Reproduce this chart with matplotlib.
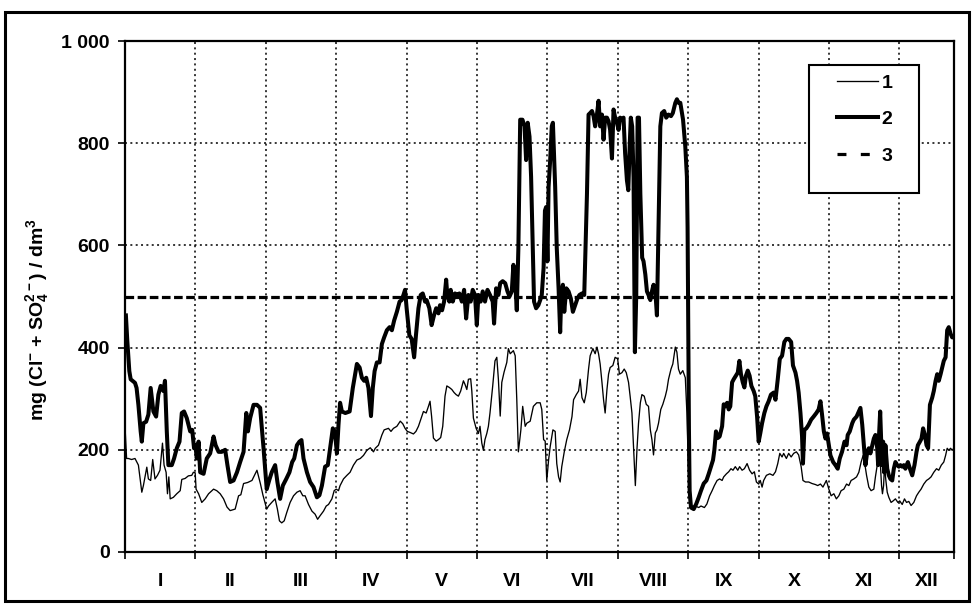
import matplotlib
matplotlib.use("Agg")
import matplotlib.pyplot as plt
from matplotlib.patches import Rectangle
from matplotlib.lines import Line2D

plt.rcParams['font.family'] = ['Liberation Sans', 'DejaVu Sans']
plt.rcParams['font.weight'] = 'bold'
plt.rcParams['mathtext.default'] = 'regular'

# ---------------- data ----------------
months = ['I', 'II', 'III', 'IV', 'V', 'VI', 'VII', 'VIII', 'IX', 'X', 'XI', 'XII']
month_edges = [0, 31, 62, 93, 124, 155, 186, 217, 248, 279, 310, 341, 365]
y_ticks = [0, 200, 400, 600, 800, 1000]
y_tick_labels = ['0', '200', '400', '600', '800', '1 000']
limit_value = 500
legend_labels = ['1', '2', '3']
y_label = r'mg (Cl$^{-}$ + SO$_{4}^{2-}$) / dm$^{3}$'

# series 1 (thin line): day of year, value
days1 = [0, 0.7, 1.5, 2.9, 4.4, 5.9, 7.4, 8.1, 8.8, 9.6,
         10.3, 11.3, 12.2, 13.2, 14.3, 15.4, 16.5, 17.2, 18.1, 18.7,
         19.3, 19.9, 21.3, 22.8, 24.3, 25, 26.5, 27.9, 29.4, 30.1,
         30.9, 31.3, 32.4, 33.8, 35.3, 36.8, 39, 40.4, 41.9, 43.4,
         44.9, 46.3, 48.5, 50, 51, 52.2, 54, 55.9, 58.1,
         59.6, 60.7,
         62.4, 63.2, 64.6, 66.1, 67.1, 68, 69, 70.1, 71.2, 72.7,
         74.2, 75.7, 77.1, 78.3, 79.3, 80.8, 82.3, 83.7, 84.8, 85.9,
         87.4, 88.6, 89.6, 91.1, 92.1, 93, 94, 94.7, 96.2, 97.7,
         99.1, 100.6, 102.1, 103.6, 105, 106.5, 108, 109.4, 110.2, 111.6,
         113.1, 114.1, 116, 117.1, 118.2, 119.7, 121.2,
         122.3, 123.3, 124.3, 125.5, 127, 128.1, 129.2, 130.2, 131.4, 132.6,
         133.6, 134.3, 135, 135.8, 137, 138, 139, 139.9, 140.9, 141.7,
         142.8, 143.9, 144.9, 145.8, 146.8, 147.8, 149, 149.7, 150.5, 151.2,
         152.2, 152.7, 153.4, 154.6, 155.6, 156.3, 157.1, 157.8, 158.5, 159.3,
         160, 160.7, 161.9, 162.9, 163.7, 164.4, 165.2, 165.9, 166.9, 168.1,
         168.8, 169.6, 170.3, 171, 171.8, 172.5, 173.2, 174.3, 175.1, 176.2,
         176.9, 178.4, 179.8, 181.3, 182.8, 183.5,
         184.3, 185, 185.7, 186.5, 187.2, 188.4, 189.4, 190.1, 190.9, 191.6,
         192.3, 193.4, 194.5, 195.7, 196.8, 197.5, 198.7, 199.7, 200.4, 201.2,
         202.2, 203.1, 204.1, 204.8, 206, 207, 207.8, 208.5, 209.2, 210,
         210.7, 211.4, 212.2, 212.9, 213.6, 214.8, 215.8, 216.9, 217.7, 218.8,
         219.8, 220.7, 221.7, 222.4, 223.2, 223.9, 224.7, 225.4, 226.1, 226.9,
         227.6, 228.6, 229.5, 230.5, 231.3, 232, 232.7, 233.5, 234.2, 234.9,
         235.9, 236.8, 237.9, 238.6, 239.3, 240.4, 241.2, 242.3, 243, 243.7,
         244.5, 245.6,
         246.7, 247.4, 248, 248.6, 249.6, 251.1, 252.6, 253.6, 255.1, 256.2,
         257.4, 258.5, 259.5, 260.7, 261.8, 262.9, 263.6, 264.8, 265.8, 266.8,
         267.7, 268.7, 269.8, 270.6, 271.7, 272.7, 273.9, 275, 276.1, 277.1,
         278, 279, 279.7, 280.5, 281.2, 282.4, 283.9, 285.3, 286.4, 287.4,
         288.3, 289.3, 290, 291.2, 292.2, 293.3, 294.4, 295.6, 296.6, 297.7,
         298.5, 299.6, 301, 302.5, 304, 305, 306.2, 307.3,
         308.8, 309.9, 310.9, 312.1, 313.2, 314.3, 315.3, 316.5, 317.7, 318.7,
         319.7, 320.9, 322.1, 323.1, 324.1, 325, 325.6, 326.5, 327.5, 328.5,
         329.7, 330.4, 331.2, 331.9, 332.6, 333.1, 333.5, 334, 334.4, 335,
         335.6, 336.3, 337.3, 338.2, 339.2, 340.3, 341.1, 342.2, 343.2, 344.1,
         345.1, 346.1, 347.3, 348.5, 349.5, 350.5, 351.7, 352.9, 353.9, 354.9,
         356.1, 357.3, 358.3, 359.4, 360.5, 361.3, 362, 362.7, 363.5, 364.2,
         364.9]
series1 = [246, 183, 183, 181, 183, 170, 117, 130, 147, 166,
           143, 140, 181, 143, 150, 160, 213, 170, 156, 114,
           147, 104, 107, 114, 120, 142, 144, 149, 150, 156,
           155, 123, 114, 97, 104, 114, 123, 120, 114, 104,
           88, 81, 84, 110, 112, 134, 136, 140, 160,
           134, 112,
           84, 90, 97, 104, 84, 61, 57, 61, 77, 97,
           110, 117, 120, 110, 110, 93, 80, 74, 64, 71,
           80, 90, 93, 104, 120, 123, 120, 130, 143, 150,
           156, 170, 180, 183, 189, 199, 204, 196, 203, 209,
           229, 239, 242, 236, 242, 246, 256,
           251, 242, 236, 234, 231, 236, 246, 259, 275, 272,
           285, 295, 265, 223, 217, 220, 224, 246, 305, 325,
           322, 318, 312, 308, 305, 315, 335, 328, 318, 338,
           339, 315, 262, 242, 232, 246, 213, 199, 220, 232,
           246, 272, 325, 374, 381, 338, 266, 332, 352, 371,
           398, 388, 391, 394, 384, 298, 196, 239, 285, 246,
           252, 256, 285, 292, 292, 279,
           220, 217, 140, 180, 206, 239, 236, 173, 147, 137,
           167, 196, 220, 239, 265, 298, 308, 315, 338, 302,
           292, 312, 358, 384, 398, 388, 401, 388, 368, 332,
           298, 272, 318, 348, 361, 365, 381, 378, 348, 351,
           358, 351, 332, 305, 272, 206, 130, 200, 252, 292,
           308, 305, 289, 285, 239, 220, 190, 233, 239, 252,
           279, 289, 305, 318, 338, 358, 368, 401, 391, 358,
           348, 355,
           341, 272, 173, 94, 90, 90, 87, 90, 87, 94,
           110, 120, 130, 140, 143, 140, 147, 153, 157, 163,
           160, 167, 160, 167, 160, 163, 173, 160, 153, 157,
           137, 133, 140, 127, 140, 150, 153, 150, 157, 173,
           193, 186, 193, 183, 193, 186, 193, 196, 190, 167,
           140, 137, 137, 134, 132, 130, 133, 127,
           140, 123, 110, 114, 104, 110, 120, 123, 133, 130,
           140, 143, 147, 156, 176, 189, 176, 150, 127, 120,
           123, 147, 170, 183, 170, 130, 114, 130, 170, 140,
           117, 107, 97, 100, 104, 97, 100, 93, 104, 97,
           99, 91, 97, 110, 117, 123, 133, 140, 143, 147,
           156, 163, 160, 170, 176, 189, 203, 199, 203, 199,
           203]

# series 2 (thick line): day of year, value
days2 = [0.4, 1, 1.9, 2.5, 4.4, 5.1, 5.9, 6.9, 7.4, 8.1,
         9.3, 10.3, 11.3, 12.5, 13.7, 14.7, 15.7, 16.9, 17.6, 18.4,
         19.1, 20.6, 21.6, 22.8, 24, 25, 26, 27.2, 28.7, 29.6,
         30.4, 31, 31.6, 32.4, 33.1, 34.6, 36, 37.5, 39, 39.9,
         41.2, 42.6, 44.1, 45.1, 46.3, 47.8, 49.3, 50.7, 52.2, 53.4,
         54.1, 55.1, 56.6, 58.1,
         59.5, 61, 62.4, 63.6, 64.6, 66.1, 67.1, 68.3, 69.5, 71,
         72.4, 73.6, 74.5, 75.7, 76.8, 77.7, 78.6, 80.1, 81.5, 83,
         84.5, 85.6, 86.7, 88.1, 89.3, 90.3, 91.5, 92.4, 93.3, 94,
         94.7, 95.5, 97, 98.9, 100.3, 102.1, 103.3, 104.3, 105.3, 106.2,
         107.2, 108.3, 109.1, 109.9, 110.9, 112.1, 113.1, 114.1, 115.3, 116.5,
         117.5, 118.5, 119.7, 120.9,
         121.8, 122.6, 123.3, 124, 125.2, 126.2, 127.3, 128.1, 129.2, 130.2,
         131.1, 132.1, 132.8, 134, 135, 136.1, 137, 138, 138.7, 139.6,
         140.5, 141.4, 141.9, 142.8, 143.4, 144.3, 145.3, 146.4, 147.2, 148.3,
         149.3, 150.2, 151.2, 152.2, 153.1, 154.1, 154.9, 155.6, 156.6, 157.5,
         158.5, 159.6, 160.7, 161.9, 162.5, 163.4, 164.4, 165.2, 166.3, 167.4,
         168.4, 169.3, 170.3, 171, 171.8, 172.5, 173.2, 174, 175, 175.9,
         176.6, 177.3, 178.1, 178.8, 179.5, 180.1, 181, 182, 182.8,
         183.5, 184.3, 184.9, 185.4, 186, 186.5, 187.2, 187.9, 188.4, 189,
         189.4, 190.1, 190.9, 191.6, 192.1, 192.8, 193.4, 194.3, 195.3, 196.3,
         197.2, 198.2, 199.2, 200.1, 201.2, 202.2, 203.4, 204.1, 204.8, 205.6,
         206.3, 207, 207.8, 208.5, 209.2, 210, 210.7, 211.4, 212.2, 212.9,
         213.6, 214.4, 215.1, 215.8, 216.6, 217.3, 218, 218.8, 219.5, 220.2,
         221, 221.6, 222.2, 222.7, 223.3, 223.9, 224.5, 225.1, 225.7, 226.3,
         226.9, 227.7, 228.3, 229.1, 229.8, 230.5, 231.3, 232, 232.7, 233.5,
         234.2, 234.9, 235.7, 236.4, 237.4, 238.3, 239.3, 240.4, 241.2, 242.3,
         243, 243.7,
         244.5, 245.7, 246.7, 247.4, 247.7, 248, 248.3, 248.6, 249.2, 250.4,
         251.5, 252.6, 253.6, 254.8, 256, 257, 258, 258.9, 259.5, 260.2,
         261, 261.8, 262.9, 263.6, 264.3, 265.1, 265.8, 266.5, 267.3, 268,
         269, 269.8, 270.5, 271.2, 272, 272.7, 273.4, 274.2, 275, 275.8,
         276.8, 277.5, 278.3, 279, 279.7, 280.5, 281.5, 282.4, 283.4, 284.4,
         285.6, 286.4, 287.4, 288.3, 289.3, 290.3, 291.2, 292.2, 293.3, 294.1,
         295.2, 295.9, 296.6, 297.4, 298.1, 298.5, 299.1, 300, 301, 302.1,
         303.2, 304.4, 305.4,
         306.2, 306.9, 307.7, 308.4, 309.1, 309.9, 310.6, 311.8, 312.8, 313.8,
         314.7, 315.7, 316.8, 317.7, 318.2, 319.1, 320.2, 320.9, 322.1, 323.1,
         323.8, 324.6, 325.3, 326, 326.8, 327.5, 328.2, 329, 329.7, 330.4,
         331.2, 331.6, 332, 332.5, 332.9, 333.4, 333.8, 334.2, 334.8, 335.6,
         336.3, 337, 337.8, 338.5, 339.2, 340, 340.7, 341.4, 342.2, 342.9,
         343.6, 344.7, 345.6, 346.6, 347.6, 348.5, 349.1, 350, 350.7, 351.4,
         352.2, 352.9, 353.6, 354.4, 355.4, 356.1, 356.9, 357.6, 358.3, 359.1,
         359.8, 360.5, 361.3, 362, 362.7, 363.5, 364.2, 364.9]
series2 = [463, 414, 354, 338, 331, 321, 288, 236, 216, 252,
           255, 269, 321, 275, 265, 308, 325, 315, 335, 236,
           170, 170, 183, 203, 216, 272, 275, 262, 236, 239,
           203, 209, 183, 216, 156, 153, 183, 193, 226, 209,
           196, 196, 200, 170, 137, 140, 156, 176, 196, 272,
           236, 262, 288, 288,
           282, 203, 123, 142, 156, 170, 137, 104, 130, 143,
           156, 176, 183, 209, 216, 219, 183, 156, 137, 127,
           107, 111, 130, 167, 170, 203, 242, 236, 193, 249,
           292, 275, 272, 275, 321, 368, 361, 341, 335, 341,
           321, 266, 321, 354, 371, 371, 407, 420, 434, 440,
           434, 453, 470, 490,
           493, 503, 513, 477, 424, 417, 381, 424, 477, 503,
           506, 490, 493, 477, 444, 464, 477, 467, 483, 473,
           490, 533, 503, 490, 513, 490, 506, 503, 506, 490,
           513, 457, 503, 490, 513, 503, 444, 503, 490, 510,
           490, 513, 503, 490, 447, 516, 503, 526, 530, 526,
           510, 500, 510, 562, 530, 473, 595, 846, 846, 833,
           767, 840, 813, 734, 602, 490, 477, 483, 493,
           503, 556, 668, 675, 569, 714, 767, 833, 840, 767,
           714, 595, 516, 430, 503, 523, 470, 516, 510, 496,
           470, 483, 496, 503, 506, 503, 701, 856, 859, 863,
           853, 833, 856, 883, 833, 856, 807, 850, 850, 843,
           826, 770, 866, 850, 840, 826, 850, 846, 850, 780,
           727, 708, 794, 850, 833, 734, 391, 503, 850, 850,
           701, 576, 569, 543, 510, 503, 493, 510, 523, 510,
           463, 635, 833, 859, 863, 850, 856, 853, 859, 879,
           886, 879,
           879, 846, 793, 734, 635, 437, 239, 120, 87, 84,
           94, 107, 120, 134, 140, 153, 167, 180, 200, 236,
           223, 226, 246, 289, 285, 292, 279, 285, 332, 338,
           345, 351, 374, 348, 332, 322, 345, 355, 345, 325,
           315, 305, 265, 216, 232, 252, 272, 285, 295, 308,
           312, 298, 338, 378, 384, 411, 417, 417, 411, 365,
           351, 335, 312, 272, 226, 173, 239, 242, 249, 259,
           265, 272, 279,
           295, 269, 236, 222, 232, 209, 189, 176, 170, 163,
           183, 196, 216, 209, 229, 236, 252, 259, 265, 275,
           282, 249, 209, 170, 196, 203, 193, 209, 222, 229,
           203, 170, 229, 275, 222, 170, 216, 156, 209, 163,
           150, 143, 140, 163, 176, 170, 167, 170, 167, 170,
           163, 176, 163, 150, 170, 196, 209, 216, 222, 242,
           229, 209, 203, 288, 302, 315, 335, 348, 335, 348,
           361, 374, 381, 434, 440, 427, 420, 420]

# ---------------- figure ----------------
W, H = 974, 608
FS = 14
fig = plt.figure(figsize=(W / 100, H / 100), dpi=100)
ax = fig.add_axes([125 / W, (H - 552) / H, 829 / W, 511 / H])

ax.plot(days1, series1, color='black', lw=0.95, zorder=3)
ax.plot(days2, series2, color='black', lw=2.9, zorder=4, solid_joinstyle='round')
ax.axhline(limit_value, color='black', lw=2.3, ls=(0, (2.7, 1.1)), zorder=5)

ax.set_xlim(month_edges[0], month_edges[-1])
ax.set_ylim(y_ticks[0], y_ticks[-1])

ax.set_xticks(month_edges)
ax.set_xticklabels([])
centers = [(a + b) / 2 for a, b in zip(month_edges[:-1], month_edges[1:])]
ax.set_xticks(centers, minor=True)
ax.set_xticklabels(months, minor=True, fontsize=FS, fontweight='bold')
ax.set_yticks(y_ticks)
ax.set_yticklabels(y_tick_labels, fontsize=FS, fontweight='bold')

ax.tick_params(axis='both', which='major', direction='out', length=5, width=1.2, colors='black')
ax.tick_params(axis='x', which='minor', length=0, pad=15)
ax.tick_params(axis='y', which='major', pad=6)

ax.grid(True, which='major', color='black', lw=1.1, ls=(0, (1.3, 2.2)))
ax.set_axisbelow(True)
for s in ax.spines.values():
    s.set_linewidth(1.6)

ax.set_ylabel(y_label, fontsize=FS, fontweight='bold')
ax.yaxis.label.set_verticalalignment('center')
ax.yaxis.set_label_coords(-0.105, 0.454)

# legend with a square box
box = Rectangle(((809 - 125) / 829, 1 - (193 - 41) / 511), 110 / 829, 128 / 511,
                transform=ax.transAxes, facecolor='white', edgecolor='black',
                lw=1.5, zorder=6)
ax.add_patch(box)
handles = [Line2D([], [], color='black', lw=0.95),
           Line2D([], [], color='black', lw=2.9),
           Line2D([], [], color='black', lw=2.3, ls=(0, (2.8, 4.5)))]
leg = ax.legend(handles, legend_labels, loc='upper left',
                bbox_to_anchor=((837 - 125) / 829, 1 - (74 - 41) / 511),
                frameon=False, borderpad=0, borderaxespad=0,
                handlelength=2.1, handletextpad=0.2, labelspacing=0.98,
                prop={'size': FS, 'weight': 'bold'})
leg.set_zorder(7)

frame = Rectangle((5 / W, 7 / H), 964 / W, 589 / H, transform=fig.transFigure,
                  fill=False, edgecolor='black', lw=2.2)
fig.add_artist(frame)

fig.savefig('out.png', dpi=100)
